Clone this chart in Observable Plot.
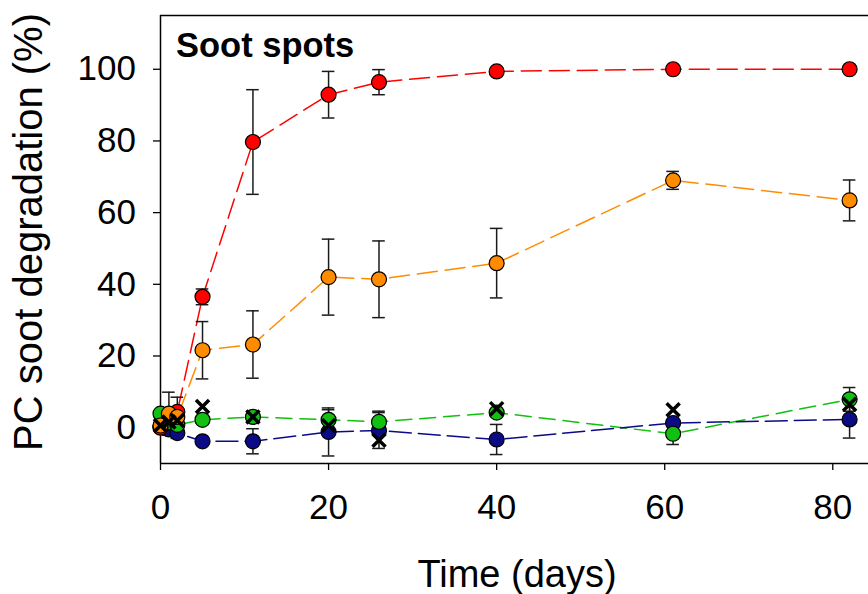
<!DOCTYPE html>
<html><head><meta charset="utf-8">
<script src="https://cdn.jsdelivr.net/npm/d3@7"></script>
<script src="https://cdn.jsdelivr.net/npm/@observablehq/plot@0.6"></script>
<style>html,body{margin:0;padding:0;background:#fff}svg{display:block}</style>
</head><body><div id="chart"></div>
<script>
// ---- data ----
const time      = [0, 1, 2, 5, 11, 20, 26, 40, 61, 82];
const red       = [0, 3, 4.4, 36.5, 79.7, 92.9, 96.4, 99.4, 100, 100];
const redErr    = [0, 0, 0, 2.2, 14.6, 6.5, 3.5, 0, 0, 0];
const orange    = [0.6, 3.9, 3.0, 21.6, 23.2, 42, 41.4, 45.9, 69, 63.4];
const orangeErr = [0, 6, 5.5, 8, 9.4, 10.6, 10.7, 9.7, 2.5, 5.7];
const green     = [3.9, 1.5, 0.8, 2.2, 3.0, 2.2, 1.6, 4.2, -1.7, 7.9];
const greenErr  = [0, 0, 0, 1, 1.5, 2.8, 3, 1, 3, 3.3];
const blue      = [0.3, -0.5, -1.5, -3.8, -3.8, -1.2, -0.8, -3.3, 1.3, 2.3];
const blueErr   = [1, 1.5, 1.5, 1, 3.5, 6.7, 5, 4.2, 1, 5.2];
const cross     = [0.6, 1.6, 2, 5.9, 3.0, 0.6, -3.5, 5.3, 5.0, 6.5];
const crossErr  = [0, 0, 0, 0, 0, 0, 0, 0, 0, 0];
const xTicks = [0, 20, 40, 60, 80];
const yTicks = [0, 20, 40, 60, 80, 100];
const panelTitle = "Soot spots";
const xTitle = "Time (days)";
const yTitle = "PC soot degradation (%)";

// ---- styles ----
const styles = {
  red:    {fill: "#ff0000", dash: "20,8"},
  orange: {fill: "#ff8c00", dash: "20,8"},
  green:  {fill: "#11c011", dash: "16,8"},
  blue:   {fill: "#0b0b86", dash: "22,7"}
};
const seriesData = {red: [red, redErr], orange: [orange, orangeErr], green: [green, greenErr], blue: [blue, blueErr]};
const rows = Object.entries(seriesData).flatMap(([name, [v, e]]) =>
  time.map((t, i) => ({series: name, t, v: v[i], e: e[i]})));
const crossRows = time.map((t, i) => ({t, v: cross[i], e: crossErr[i]}));
const errRows = [...rows, ...crossRows].filter(d => d.e > 0);
const FONT = "'Liberation Sans', Arial, sans-serif";

const marks = [
  Plot.ruleX([0], {stroke: "#000", strokeWidth: 1.5}),
  Plot.ruleY([115], {stroke: "#000", strokeWidth: 1.5}),
  Plot.ruleY([-10], {stroke: "#000", strokeWidth: 1.5}),
  Plot.axisX({ticks: xTicks, tickSize: 7, tickPadding: 24, fontSize: 35, label: null, stroke: "#000", strokeWidth: 1.3}),
  Plot.axisY({ticks: yTicks, tickSize: 7, tickPadding: 17.5, fontSize: 35, label: null, stroke: "#000", strokeWidth: 1.3}),
];
for (const name of Object.keys(styles)) {
  marks.push(Plot.line(rows.filter(d => d.series === name), {
    x: "t", y: "v", stroke: styles[name].fill, strokeWidth: 1.5, strokeDasharray: styles[name].dash
  }));
}
marks.push(
  Plot.ruleX(errRows, {x: "t", y1: d => d.v - d.e, y2: d => d.v + d.e, stroke: "#1a1a1a", strokeWidth: 1.5}),
  Plot.ruleY(errRows, {x1: "t", x2: "t", y: d => d.v + d.e, insetLeft: -6.3, insetRight: -6.3, stroke: "#1a1a1a", strokeWidth: 1.5}),
  Plot.ruleY(errRows, {x1: "t", x2: "t", y: d => d.v - d.e, insetLeft: -6.3, insetRight: -6.3, stroke: "#1a1a1a", strokeWidth: 1.5})
);
for (const name of ["blue", "green", "red", "orange"]) {
  marks.push(Plot.dot(rows.filter(d => d.series === name), {
    x: "t", y: "v", r: 7.5, fill: styles[name].fill, stroke: "#000", strokeWidth: 1.2
  }));
}
marks.push(Plot.dot(crossRows, {x: "t", y: "v", symbol: "times", r: 6, stroke: "#000", strokeWidth: 3.5}));

const chart = Plot.plot({
  width: 868, height: 594,
  marginLeft: 160, marginRight: 0, marginTop: 15, marginBottom: 131,
  x: {domain: [0, 84.25]},
  y: {domain: [-10, 115]},
  style: {fontFamily: FONT, background: "#fff", color: "#000", overflow: "visible"},
  marks
});
const svg = d3.select(chart);
svg.append("text").attr("x", 176).attr("y", 56.5).attr("text-anchor", "start").attr("font-family", FONT)
  .attr("font-size", 34.5).attr("font-weight", "bold").attr("fill", "#000").text(panelTitle);
svg.append("text").attr("x", 517).attr("y", 587).attr("text-anchor", "middle").attr("font-family", FONT)
  .attr("font-size", 38).attr("fill", "#000").text(xTitle);
svg.append("text").attr("transform", "translate(42,232) rotate(-90)").attr("text-anchor", "middle")
  .attr("font-family", FONT).attr("font-size", 40).attr("fill", "#000").text(yTitle);
document.getElementById("chart").appendChild(chart);
</script>
</body></html>
